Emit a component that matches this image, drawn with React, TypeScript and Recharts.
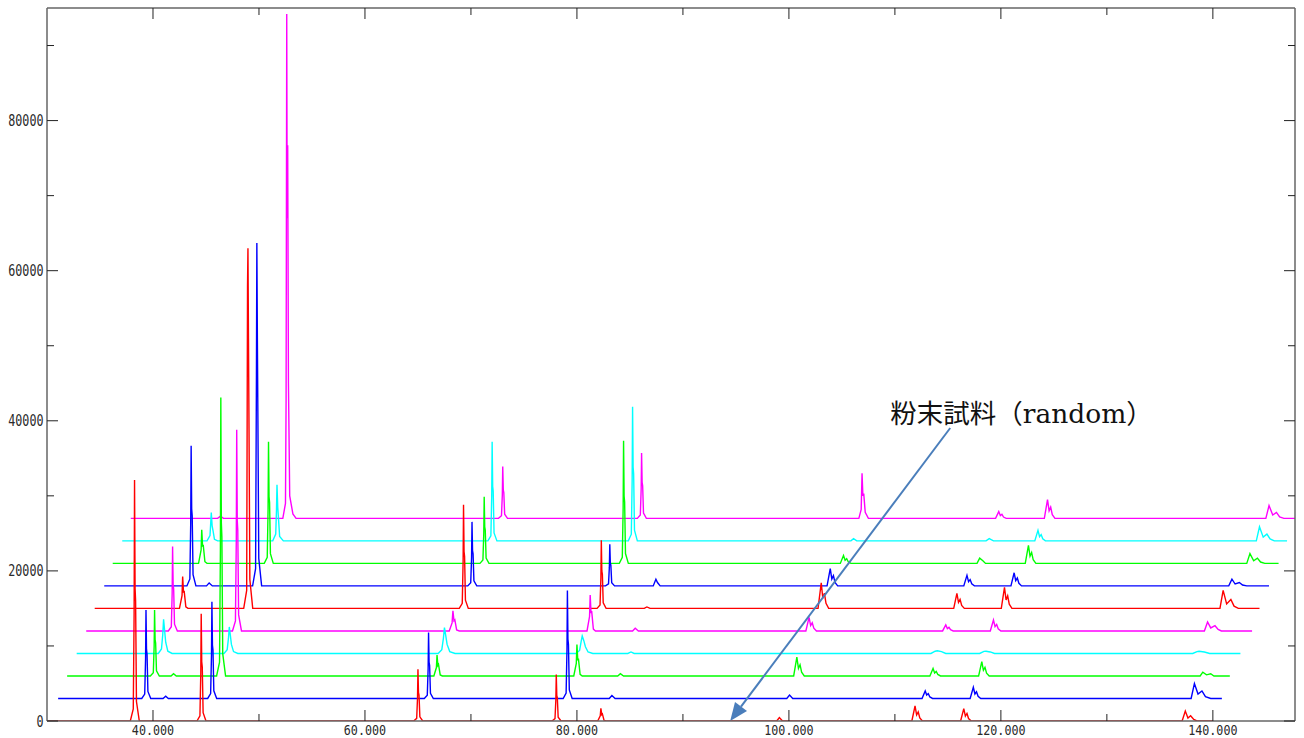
import React from 'react';
import { LineChart, Line, XAxis, YAxis, ReferenceLine, ReferenceDot } from 'recharts';

// ---------- data (2θ as drawn, counts above each trace's own baseline) ----------
const traceColors = ['#ff0000', '#0000ff', '#00ff00', '#00ffff', '#ff00ff', '#ff0000', '#0000ff', '#00ff00', '#00ffff', '#ff00ff'];
const traceBaselines = [0, 3000, 6000, 9000, 12000, 15000, 18000, 21000, 24000, 27000];

const trace0: number[][] = [
  [30, 0], [37.86, 0], [38.14, 1600], [38.22, 14400], [38.26, 32100], [38.31, 17700], [38.36, 16000], [38.44, 2600], [38.71, 0],
  [44.15, 0], [44.43, 700], [44.51, 6400], [44.55, 14300], [44.6, 7900], [44.65, 7200], [44.73, 1100], [45.0, 0],
  [64.6, 0], [64.88, 350], [64.96, 3100], [65.0, 6900], [65.05, 3800], [65.1, 3450], [65.18, 550], [65.45, 0],
  [77.65, 0], [77.93, 310], [78.01, 2800], [78.05, 6200], [78.1, 3400], [78.15, 3100], [78.23, 500], [78.5, 0],
  [81.96, 0], [82.2, 680], [82.26, 1700], [82.34, 850], [82.4, 940], [82.56, 85], [82.76, 0],
  [98.85, 0], [99.1, 450], [99.4, 0],
  [111.6, 0], [111.9, 2000], [112.05, 800], [112.2, 1200], [112.35, 400], [112.6, 0],
  [116.2, 0], [116.5, 1650], [116.65, 660], [116.8, 1000], [116.95, 330], [117.2, 0],
  [137.1, 0], [137.4, 1330], [137.65, 400], [137.9, 700], [138.2, 200], [138.5, 0],
  [140, 0],
];

const trace1: number[][] = [
  [31.05, 0], [38.94, 0], [39.22, 590], [39.3, 5300], [39.34, 11800], [39.39, 6500], [39.44, 5900], [39.52, 940], [39.79, 0],
  [40.95, 0], [41.2, 300], [41.45, 0],
  [45.16, 0], [45.44, 650], [45.52, 5800], [45.56, 12900], [45.61, 7100], [45.66, 6450], [45.74, 1030], [46.01, 0],
  [65.6, 0], [65.88, 440], [65.96, 3960], [66.0, 8800], [66.05, 4840], [66.1, 4400], [66.18, 700], [66.45, 0],
  [78.7, 0], [78.98, 720], [79.06, 6480], [79.1, 14400], [79.15, 7920], [79.2, 7200], [79.28, 1150], [79.55, 0],
  [83.05, 0], [83.3, 400], [83.6, 0],
  [99.8, 0], [100.06, 450], [100.36, 0],
  [112.56, 0], [112.86, 1000], [113.0, 450], [113.15, 650], [113.3, 200], [113.55, 0],
  [117.1, 0], [117.4, 1500], [117.55, 600], [117.7, 900], [117.85, 300], [118.1, 0],
  [137.95, 0], [138.26, 2000], [138.6, 600], [138.97, 1000], [139.3, 250], [139.8, 0],
  [140.85, 0],
];

const trace2: number[][] = [
  [31.9, 0], [39.75, 0], [40.03, 440], [40.11, 3960], [40.15, 8800], [40.2, 4840], [40.25, 4400], [40.33, 700], [40.6, 0],
  [41.7, 0], [41.94, 300], [42.2, 0],
  [46.0, 0], [46.28, 1850], [46.36, 16700], [46.4, 37100], [46.45, 20400], [46.5, 18550], [46.58, 2970], [46.85, 0],
  [66.5, 0], [66.74, 1120], [66.8, 2800], [66.88, 1400], [66.94, 1540], [67.1, 140], [67.3, 0],
  [79.7, 0], [79.94, 1680], [80.0, 4200], [80.08, 2100], [80.14, 2310], [80.3, 210], [80.5, 0],
  [83.85, 0], [84.1, 300], [84.4, 0],
  [100.45, 0], [100.75, 2500], [100.9, 1000], [101.05, 1500], [101.2, 500], [101.45, 0],
  [113.3, 0], [113.6, 1000], [113.75, 400], [113.9, 600], [114.05, 200], [114.3, 0],
  [117.9, 0], [118.2, 1900], [118.35, 760], [118.5, 1140], [118.65, 380], [118.9, 0],
  [138.8, 0], [139.05, 500], [139.4, 150], [139.8, 300], [140.1, 0],
  [141.6, 0],
];

const trace3: number[][] = [
  [32.8, 0], [40.5, 0], [40.8, 600], [40.92, 2500], [41.0, 4560], [41.1, 3000], [41.2, 1500], [41.4, 300], [41.8, 0],
  [46.7, 0], [47.0, 500], [47.12, 2000], [47.2, 3530], [47.3, 2400], [47.4, 1200], [47.6, 250], [48.0, 0],
  [66.9, 0], [67.25, 500], [67.4, 2000], [67.5, 3440], [67.62, 2400], [67.75, 1200], [68.0, 250], [68.5, 0],
  [79.9, 0], [80.25, 400], [80.4, 1600], [80.5, 2330], [80.65, 1700], [80.8, 900], [81.05, 200], [81.5, 0],
  [84.8, 0], [85.1, 200], [85.4, 0],
  [113.4, 0], [113.8, 300], [114.0, 350], [114.4, 250], [114.8, 0],
  [118.0, 0], [118.4, 280], [118.6, 300], [119.0, 200], [119.4, 0],
  [138.1, 0], [138.5, 250], [138.7, 300], [139.2, 200], [139.7, 0],
  [142.6, 0],
];

const trace4: number[][] = [
  [33.7, 0], [41.45, 0], [41.73, 560], [41.81, 5060], [41.85, 11240], [41.9, 6180], [41.95, 5620], [42.03, 900], [42.3, 0],
  [47.5, 0], [47.78, 1340], [47.86, 12060], [47.9, 26800], [47.95, 14740], [48.0, 13400], [48.08, 2140], [48.35, 0],
  [67.95, 0], [68.22, 1070], [68.3, 2670], [68.4, 1340], [68.48, 1470], [68.65, 130], [68.9, 0],
  [80.95, 0], [81.19, 1920], [81.25, 4800], [81.33, 2400], [81.39, 2640], [81.55, 240], [81.75, 0],
  [85.25, 0], [85.5, 350], [85.8, 0],
  [101.6, 0], [101.9, 1800], [102.05, 720], [102.2, 1080], [102.35, 360], [102.6, 0],
  [114.5, 0], [114.8, 800], [114.95, 320], [115.1, 480], [115.25, 160], [115.5, 0],
  [119.0, 0], [119.3, 1450], [119.45, 580], [119.6, 870], [119.75, 290], [120.0, 0],
  [139.2, 0], [139.5, 1200], [139.8, 400], [140.2, 700], [140.5, 200], [140.8, 0],
  [143.7, 0],
];

const trace5: number[][] = [
  [34.5, 0], [42.5, 0], [42.74, 1700], [42.8, 4240], [42.88, 2120], [42.94, 2330], [43.1, 210], [43.3, 0],
  [48.56, 0], [48.84, 2400], [48.92, 43000], [48.96, 48000], [49.01, 36000], [49.06, 24000], [49.14, 3840], [49.41, 0],
  [68.9, 0], [69.18, 690], [69.26, 6210], [69.3, 13800], [69.35, 7590], [69.4, 6900], [69.48, 1100], [69.75, 0],
  [81.9, 0], [82.18, 450], [82.26, 4090], [82.3, 9090], [82.35, 5000], [82.4, 4550], [82.48, 730], [82.75, 0],
  [86.35, 0], [86.6, 200], [86.9, 0],
  [102.75, 0], [103.05, 3400], [103.2, 1360], [103.35, 2040], [103.5, 680], [103.75, 0],
  [115.55, 0], [115.85, 2000], [116.0, 800], [116.15, 1200], [116.3, 400], [116.55, 0],
  [120.04, 0], [120.34, 2800], [120.49, 1120], [120.64, 1680], [120.79, 560], [121.04, 0],
  [140.67, 0], [140.97, 2400], [141.3, 600], [141.7, 1200], [142.0, 300], [142.4, 0],
  [144.4, 0],
];

const trace6: number[][] = [
  [35.4, 0], [43.2, 0], [43.48, 930], [43.56, 8400], [43.6, 18670], [43.65, 10270], [43.7, 9340], [43.78, 1490], [44.05, 0],
  [45.05, 0], [45.3, 400], [45.6, 0],
  [49.4, 0], [49.68, 2300], [49.76, 28000], [49.8, 45700], [49.85, 32700], [49.9, 22000], [49.98, 3660], [50.25, 0],
  [69.7, 0], [69.98, 430], [70.06, 3840], [70.1, 8530], [70.15, 4690], [70.2, 4270], [70.28, 680], [70.55, 0],
  [82.7, 0], [82.98, 280], [83.06, 2500], [83.1, 5560], [83.15, 3060], [83.2, 2780], [83.28, 440], [83.55, 0],
  [87.2, 0], [87.45, 900], [87.6, 450], [87.85, 0],
  [103.6, 0], [103.9, 2300], [104.05, 920], [104.2, 1380], [104.35, 460], [104.6, 0],
  [116.5, 0], [116.8, 1400], [116.95, 560], [117.1, 840], [117.25, 280], [117.5, 0],
  [120.95, 0], [121.25, 1750], [121.4, 700], [121.55, 1050], [121.7, 350], [121.95, 0],
  [141.5, 0], [141.8, 900], [142.1, 250], [142.5, 450], [142.8, 120], [143.2, 0],
  [145.3, 0],
];

const trace7: number[][] = [
  [36.2, 0], [44.3, 0], [44.54, 1790], [44.6, 4470], [44.68, 2240], [44.74, 2460], [44.9, 220], [45.1, 0],
  [50.5, 0], [50.78, 810], [50.86, 7290], [50.9, 16200], [50.95, 8910], [51.0, 8100], [51.08, 1300], [51.35, 0],
  [70.85, 0], [71.13, 440], [71.21, 3990], [71.25, 8870], [71.3, 4880], [71.35, 4440], [71.43, 710], [71.7, 0],
  [84.0, 0], [84.28, 820], [84.36, 7350], [84.4, 16330], [84.45, 8980], [84.5, 8170], [84.58, 1310], [84.85, 0],
  [104.85, 0], [105.15, 1050], [105.3, 420], [105.45, 630], [105.6, 210], [105.85, 0],
  [117.75, 0], [118.0, 700], [118.3, 350], [118.55, 0],
  [122.3, 0], [122.6, 2400], [122.75, 960], [122.9, 1440], [123.05, 480], [123.3, 0],
  [143.2, 0], [143.5, 1300], [143.85, 350], [144.2, 700], [144.5, 180], [144.9, 0],
  [146.2, 0],
];

const trace8: number[][] = [
  [37.1, 0], [45.1, 0], [45.38, 700], [45.44, 2200], [45.5, 3770], [45.58, 2000], [45.66, 1400], [45.8, 200], [46.1, 0],
  [51.3, 0], [51.58, 900], [51.65, 4000], [51.7, 7470], [51.77, 4500], [51.84, 3000], [51.95, 600], [52.3, 0],
  [71.6, 0], [71.88, 660], [71.96, 5940], [72.0, 13200], [72.05, 7260], [72.1, 6600], [72.18, 1060], [72.45, 0],
  [84.85, 0], [85.13, 890], [85.21, 8040], [85.25, 17870], [85.3, 9830], [85.35, 8940], [85.43, 1430], [85.7, 0],
  [105.85, 0], [106.1, 300], [106.4, 0],
  [118.6, 0], [118.9, 300], [119.3, 0],
  [123.2, 0], [123.5, 1400], [123.65, 560], [123.8, 840], [123.95, 280], [124.2, 0],
  [144.1, 0], [144.4, 1870], [144.75, 500], [145.1, 900], [145.4, 250], [145.8, 0],
  [147.0, 0],
];

const trace9: number[][] = [
  [37.9, 0], [46.1, 0], [46.37, 300], [46.65, 0],
  [52.25, 0], [52.5, 2000], [52.56, 16000], [52.62, 67200], [52.66, 40000], [52.71, 49700], [52.78, 18000], [52.9, 3000], [53.2, 600], [53.5, 0],
  [72.6, 0], [72.88, 350], [72.96, 3100], [73.0, 6900], [73.05, 3800], [73.1, 3450], [73.18, 550], [73.45, 0],
  [85.7, 0], [85.98, 440], [86.06, 3900], [86.1, 8700], [86.15, 4800], [86.2, 4350], [86.28, 700], [86.55, 0],
  [106.6, 0], [106.82, 1200], [106.9, 6000], [106.98, 3000], [107.06, 3300], [107.2, 800], [107.5, 0],
  [119.5, 0], [119.8, 900], [119.95, 360], [120.1, 540], [120.25, 180], [120.5, 0],
  [124.1, 0], [124.4, 2500], [124.55, 1000], [124.7, 1500], [124.85, 500], [125.1, 0],
  [145.0, 0], [145.3, 1700], [145.65, 450], [146.0, 800], [146.3, 200], [146.7, 0],
  [148, 0],
];

const traces = [trace0, trace1, trace2, trace3, trace4, trace5, trace6, trace7, trace8, trace9];

const xDomain = [30, 147.75];
const yDomain = [0, 95000];
const xTicks = [40, 50, 60, 70, 80, 90, 100, 110, 120, 130, 140];
const xLabelStep = 20;
const yTicks = [0, 10000, 20000, 30000, 40000, 50000, 60000, 70000, 80000, 90000];
const yLabelStep = 20000;

const annotationText = '粉末試料（random）';
const annotationTextAt = { x: 109.56, y: 39700 };
const annotationFrom = { x: 115.22, y: 39040 };
const annotationTo = { x: 94.46, y: 0 };

// ---------- styling ----------
const TICK_COLOR = '#222';
const AXIS_COLOR = '#666';
const LABEL_COLOR = '#2a2a2a';
const LABEL_FONT = "'DejaVu Sans Mono', monospace";
const ARROW_COLOR = '#4a7ebb';
const MAJOR = 11;
const MINOR = 7;
const CHAR_W = 7.05;

const seriesData = traces.map((pts, i) => pts.map(([x, c]) => ({ x, y: c + traceBaselines[i] })));

const BottomTick = (props: any) => {
  const { x, y, payload } = props;
  const v = payload.value;
  const major = v % xLabelStep === 0;
  const label = v.toFixed(3);
  return (
    <g>
      <line x1={x} y1={y} x2={x} y2={y - (major ? MAJOR : MINOR)} stroke={TICK_COLOR} strokeWidth={1} />
      {major && (
        <text x={x} y={y + 13.5} textAnchor="middle" fontSize={14} fontFamily={LABEL_FONT} fill={LABEL_COLOR}
          textLength={label.length * CHAR_W} lengthAdjust="spacingAndGlyphs">{label}</text>
      )}
    </g>
  );
};

const TopTick = (props: any) => {
  const { x, y, payload } = props;
  const major = payload.value % xLabelStep === 0;
  return <line x1={x} y1={y} x2={x} y2={y + (major ? MAJOR : MINOR)} stroke={TICK_COLOR} strokeWidth={1} />;
};

const LeftTick = (props: any) => {
  const { x, y, payload } = props;
  const v = payload.value;
  const major = v % yLabelStep === 0;
  const label = String(v);
  return (
    <g>
      <line x1={x} y1={y} x2={x + (major ? MAJOR : MINOR)} y2={y} stroke={TICK_COLOR} strokeWidth={1} />
      {major && (
        <text x={x - 3.5} y={y + 5.5} textAnchor="end" fontSize={15} fontFamily={LABEL_FONT} fill={LABEL_COLOR}
          textLength={label.length * CHAR_W} lengthAdjust="spacingAndGlyphs">{label}</text>
      )}
    </g>
  );
};

const RightTick = (props: any) => {
  const { x, y, payload } = props;
  const major = payload.value % yLabelStep === 0;
  return <line x1={x} y1={y} x2={x - (major ? MAJOR : MINOR)} y2={y} stroke={TICK_COLOR} strokeWidth={1} />;
};

const ArrowShape = (p: any) => {
  const { x1, y1, x2, y2 } = p;
  const dx = x2 - x1;
  const dy = y2 - y1;
  const len = Math.hypot(dx, dy) || 1;
  const ux = dx / len;
  const uy = dy / len;
  const head = 18;
  const half = 7.5;
  const bx = x2 - ux * head;
  const by = y2 - uy * head;
  const pts = `${x2},${y2} ${bx - uy * half},${by + ux * half} ${bx + uy * half},${by - ux * half}`;
  return (
    <g>
      <line x1={x1} y1={y1} x2={bx} y2={by} stroke={ARROW_COLOR} strokeWidth={2} />
      <polygon points={pts} fill={ARROW_COLOR} />
    </g>
  );
};

const AnnotationText = (p: any) => (
  <text x={p.cx} y={p.cy} fontSize={26.5} fill="#111"
    fontFamily="'DejaVu Serif', 'Noto Sans CJK JP', serif">{annotationText}</text>
);

export default function App() {
  const order = traces.map((_, i) => i).reverse();
  const axisLine = { stroke: AXIS_COLOR, strokeWidth: 1.5 };
  return (
    <div style={{ position: 'absolute', left: 0, top: 0, width: 1304, height: 738, background: '#fff' }}>
      <LineChart width={1304} height={738} margin={{ top: 7, right: 8, bottom: 0, left: 7 }}>
        <XAxis type="number" dataKey="x" domain={xDomain} allowDataOverflow ticks={xTicks} interval={0}
          tick={<BottomTick />} tickLine={false} tickSize={0} tickMargin={0} height={17} axisLine={axisLine} />
        <XAxis xAxisId="top" orientation="top" type="number" dataKey="x" domain={xDomain} allowDataOverflow ticks={xTicks} interval={0}
          tick={<TopTick />} tickLine={false} tickSize={0} tickMargin={0} height={1} axisLine={axisLine} />
        <YAxis type="number" domain={yDomain} allowDataOverflow ticks={yTicks} interval={0}
          tick={<LeftTick />} tickLine={false} tickSize={0} tickMargin={0} width={40} axisLine={axisLine} />
        <YAxis yAxisId="right" orientation="right" type="number" domain={yDomain} allowDataOverflow ticks={yTicks} interval={0}
          tick={<RightTick />} tickLine={false} tickSize={0} tickMargin={0} width={1} axisLine={axisLine} />
        {order.map((i) => (
          <Line
            key={i}
            data={seriesData[i]}
            dataKey="y"
            xAxisId={i === 9 ? 'top' : 0}
            yAxisId={i === 9 ? 'right' : 0}
            stroke={traceColors[i]}
            strokeWidth={1.4}
            dot={false}
            activeDot={false}
            isAnimationActive={false}
          />
        ))}
        <ReferenceLine segment={[annotationFrom, annotationTo]} ifOverflow="visible" shape={<ArrowShape />} />
        <ReferenceDot x={annotationTextAt.x} y={annotationTextAt.y} r={0} ifOverflow="visible" shape={<AnnotationText />} />
      </LineChart>
    </div>
  );
}
